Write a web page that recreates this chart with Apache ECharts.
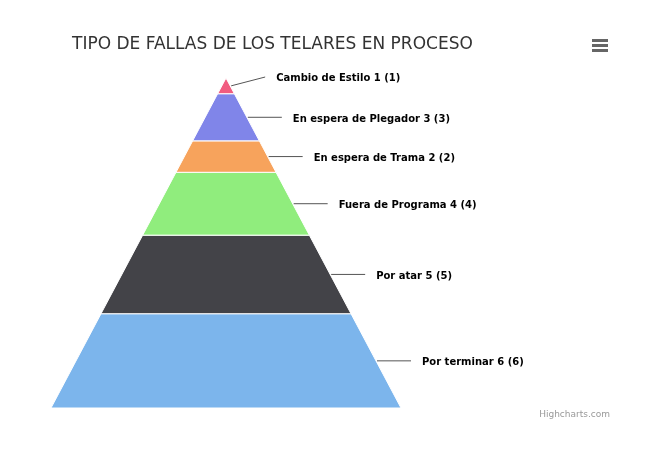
<!DOCTYPE html>
<html><head><meta charset="utf-8">
<script src="https://cdn.jsdelivr.net/npm/echarts@6/dist/echarts.min.js"></script>
<style>html,body{margin:0;padding:0;background:#fff}#c{width:659px;height:472px}</style>
</head><body><div id="c"></div>
<script>
// Data (bottom to top of the pyramid)
const categories = ['Por terminar', 'Por atar', 'Fuera de Programa', 'En espera de Trama', 'En espera de Plegador', 'Cambio de Estilo'];
const labelNames = ['Por terminar 6', 'Por atar 5', 'Fuera de Programa 4', 'En espera de Trama 2', 'En espera de Plegador 3', 'Cambio de Estilo 1'];
const values = [6, 5, 4, 2, 3, 1];
const colors = ['#7cb5ec', '#434348', '#90ed7d', '#f7a35c', '#8085e9', '#f15c80'];

const total = values.reduce((a, b) => a + b, 0);
const segs = [];
let acc = 0;
values.forEach((v, i) => { segs.push([acc, acc + v, v, i]); acc += v; });

const chart = echarts.init(document.getElementById('c'));
const FONT = '"DejaVu Sans", Verdana, sans-serif';

chart.setOption({
  animation: false,
  title: {
    text: 'TIPO DE FALLAS DE LOS TELARES EN PROCESO',
    left: 67, top: 31,
    textStyle: { fontFamily: FONT, fontSize: 17, fontWeight: 'normal', color: '#333' }
  },
  grid: { left: 51, right: 258, top: 78, bottom: 64 },
  xAxis: { type: 'value', min: -1, max: 1, show: false },
  yAxis: { type: 'value', min: 0, max: total, show: false },
  graphic: [
    { type: 'rect', shape: { x: 592, y: 39, width: 16, height: 3 }, style: { fill: '#666' } },
    { type: 'rect', shape: { x: 592, y: 44, width: 16, height: 3 }, style: { fill: '#666' } },
    { type: 'rect', shape: { x: 592, y: 49, width: 16, height: 3 }, style: { fill: '#666' } },
    { type: 'text', right: 49, top: 410, style: { text: 'Highcharts.com', fill: '#999', font: '9px ' + FONT } }
  ],
  series: [{
    type: 'custom',
    coordinateSystem: 'cartesian2d',
    data: segs,
    encode: { x: -1, y: [0, 1] },
    renderItem: function (params, api) {
      const c0 = api.value(0), c1 = api.value(1), v = api.value(2), idx = api.value(3);
      const hw0 = (total - c0) / total, hw1 = (total - c1) / total;
      const bl = api.coord([-hw0, c0]), br = api.coord([hw0, c0]);
      const tr = api.coord([hw1, c1]), tl = api.coord([-hw1, c1]);
      const cm = (c0 + c1) / 2;
      const edge = api.coord([(total - cm) / total, cm]);
      let ly = edge[1];
      let ty = ly + 2;
      if (c1 >= total) { ly = tl[1] - 1; ty = tl[1]; }
      return {
        type: 'group',
        children: [
          { type: 'polygon', shape: { points: [bl, br, tr, tl] },
            style: { fill: colors[idx], stroke: '#ffffff', lineWidth: 1 } },
          { type: 'line', shape: { x1: edge[0] + 1, y1: edge[1], x2: edge[0] + 35, y2: ly },
            style: { stroke: '#555', lineWidth: 1 } },
          { type: 'text', x: edge[0] + 46, y: ty,
            style: { text: labelNames[idx] + ' (' + v + ')', fill: '#000',
              font: 'bold 10px ' + FONT, textVerticalAlign: 'middle', textAlign: 'left' } }
        ]
      };
    }
  }]
});
</script>
</body></html>
